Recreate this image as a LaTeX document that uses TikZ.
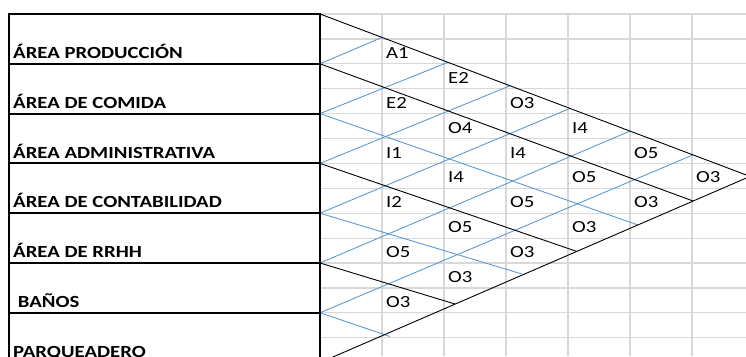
\documentclass[tikz,border=0pt]{standalone}
\usepackage{fontspec}
\setmainfont{Carlito}[FakeStretch=1.22]
\definecolor{gridgray}{RGB}{216,216,216}
\definecolor{relblue}{RGB}{91,155,213}
\begin{document}
\begin{tikzpicture}[x=1pt,y=-1pt,
  gridline/.style={draw=gridgray,line width=1.2pt},
  border/.style={draw=black,line width=2pt},
  strong/.style={draw=black,line width=0.9pt},
  weak/.style={draw=relblue,line width=0.9pt},
  dept/.style={anchor=base west,inner sep=0pt,font=\fontsize{17}{20}\selectfont\bfseries},
  cell/.style={anchor=base west,inner sep=0pt,font=\fontsize{17}{20}\selectfont}]
\useasboundingbox (0,0) rectangle (746,356);
\clip (0,0) rectangle (746,356);

% spreadsheet grid to the right of the table
\foreach \k in {0,...,14}
  \draw[gridline] (320,{14+24.9*\k}) -- (746,{14+24.9*\k});
\foreach \x in {382,444,506,568,630,692}
  \draw[gridline] (\x,14) -- (\x,356);

% department boundary points on the table edge
\foreach \i in {0,...,7}
  \coordinate (P\i) at (320,{14+49.8*\i});
\coordinate (T) at (750,176.4);

% ends of the descending lines (on the lower border)
\coordinate (D1) at (693,201);
\coordinate (D2) at (638,225);
\coordinate (D3) at (577,251.5);
\coordinate (D4) at (522,274);
\coordinate (D5) at (455,304);
\coordinate (D6) at (390,336.5);

% ends of the rising lines (on the upper border)
\coordinate (U1) at (382,37.4);
\coordinate (U2) at (448,62.3);
\coordinate (U3) at (510,85.8);
\coordinate (U4) at (570,108.4);
\coordinate (U5) at (630,131.1);
\coordinate (U6) at (693,154.9);

% relationship chart lines
\draw[weak] (P2) -- (D2);
\draw[weak] (P4) -- (D4);
\draw[weak] (P6) -- (D6);
\foreach \j in {1,...,6}
  \draw[weak] (P\j) -- (U\j);
\draw[strong] (P1) -- (D1);
\draw[strong] (P3) -- (D3);
\draw[strong] (P5) -- (D5);
\draw[strong] (P0) -- (T) -- (P7);

% closeness ratings, one per cell (column, row, text)
\foreach \c/\r/\t in {1/1/A1, 2/2/E2, 1/3/E2, 3/3/O3, 2/4/O4, 4/4/I4,
    1/5/I1, 3/5/I4, 5/5/O5, 2/6/I4, 4/6/O5, 6/6/O3, 1/7/I2, 3/7/O5,
    5/7/O3, 2/8/O5, 4/8/O3, 1/9/O5, 3/9/O3, 2/10/O3, 1/11/O3}
  \node[cell] (r\c-\r) at ({324+62*\c},{14+24.9*(\r+1)-5.4}) {\t};

% department table
\draw[border] (9,14) rectangle (320,362.6);
\foreach \i in {1,...,6}
  \draw[border] (9,{14+49.8*\i}) -- (P\i);

\node[dept] (d1) at (13,{14+49.8*1-5.4}) {ÁREA PRODUCCIÓN};
\node[dept] (d2) at (13,{14+49.8*2-5.4}) {ÁREA DE COMIDA};
\node[dept] (d3) at (13,{14+49.8*3-5.4}) {ÁREA ADMINISTRATIVA};
\node[dept] (d4) at (13,{14+49.8*4-5.4}) {ÁREA DE CONTABILIDAD};
\node[dept] (d5) at (13,{14+49.8*5-5.4}) {ÁREA DE RRHH};
\node[dept] (d6) at (13,{14+49.8*6-5.4}) {\ BAÑOS};
\node[dept] (d7) at (13,{14+49.8*7-5.4}) {PARQUEADERO};
\end{tikzpicture}
\end{document}
